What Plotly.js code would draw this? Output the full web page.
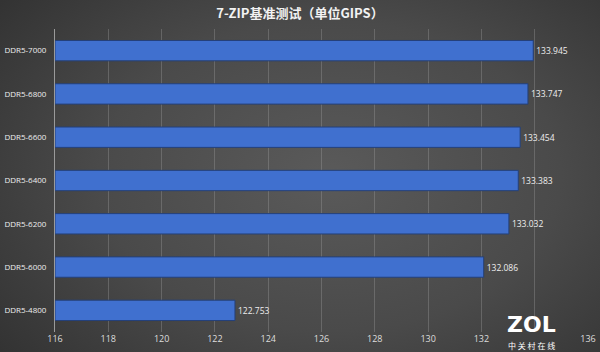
<!DOCTYPE html>
<html>
<head>
<meta charset="utf-8">
<script src="https://cdn.plot.ly/plotly-3.0.1.min.js"></script>
<style>
html,body{margin:0;padding:0;}
body{width:600px;height:352px;background:radial-gradient(ellipse 70% 80% at 55% 50%, #5a5a5a 0%, #4a4a4a 55%, #333 100%);overflow:hidden;}
#chart{width:600px;height:352px;}
</style>
</head>
<body>
<div id="chart"></div>
<script>
const categories = ["DDR5-7000","DDR5-6800","DDR5-6600","DDR5-6400","DDR5-6200","DDR5-6000","DDR5-4800"];
const values = [133.945, 133.747, 133.454, 133.383, 133.032, 132.086, 122.753];
const xTicks = [116,118,120,122,124,126,128,130,132,134,136];
const xTickText = ["116","118","120","122","124","126","128","130","132","","136"];
const axisStart = 116;

const trace = {
  type: 'bar',
  orientation: 'h',
  y: categories,
  x: values.map(v => v - axisStart),
  base: axisStart,
  marker: {color: '#4070cf', line: {color: '#24407a', width: 1}},
  text: values.map(v => v.toFixed(3)),
  textposition: 'outside',
  cliponaxis: false,
  textfont: {family: 'Open Sans, Noto Sans, sans-serif', size: 8.5, color: '#eeeeee'},
  hoverinfo: 'none'
};

const layout = {
  width: 600, height: 352,
  margin: {l: 55, r: 12, t: 29, b: 20},
  paper_bgcolor: 'rgba(0,0,0,0)',
  plot_bgcolor: 'rgba(0,0,0,0)',
  bargap: 0.53,
  showlegend: false,
  title: {
    text: '<b>7-ZIP基准测试（单位GIPS）</b>',
    font: {family: 'Noto Sans CJK SC, sans-serif', size: 13, color: '#f2f2f2'},
    x: 0.5, xanchor: 'center', y: 0.963, yanchor: 'middle', yref: 'container'
  },
  xaxis: {
    range: [116, 136],
    tickvals: xTicks,
    ticktext: xTickText,
    showgrid: true,
    gridcolor: 'rgba(160,160,160,0.35)',
    gridwidth: 1,
    zeroline: false,
    showline: false,
    ticks: '',
    tickfont: {family: 'Open Sans, Noto Sans, sans-serif', size: 9, color: '#dddddd'}
  },
  yaxis: {
    autorange: 'reversed',
    showgrid: false,
    zeroline: false,
    showline: true,
    linecolor: '#9a9a9a',
    linewidth: 1,
    ticks: '',
    ticklabelstandoff: 6,
    tickfont: {family: 'Open Sans, Noto Sans, sans-serif', size: 8, color: '#eeeeee'}
  },
  annotations: [
    {text: '<b>ZOL</b>', xref: 'paper', yref: 'paper', x: 0.894, y: 0.026, xanchor: 'center', yanchor: 'middle', showarrow: false,
     font: {family: 'DejaVu Sans, sans-serif', size: 22, color: '#ffffff'}},
    {text: '中 关 村 在 线', xref: 'paper', yref: 'paper', x: 0.894, y: -0.043, xanchor: 'center', yanchor: 'middle', showarrow: false,
     font: {family: 'Noto Sans CJK SC, sans-serif', size: 8, color: '#ffffff'}}
  ]
};

Plotly.newPlot('chart', [trace], layout, {displayModeBar: false, staticPlot: true});
</script>
</body>
</html>
